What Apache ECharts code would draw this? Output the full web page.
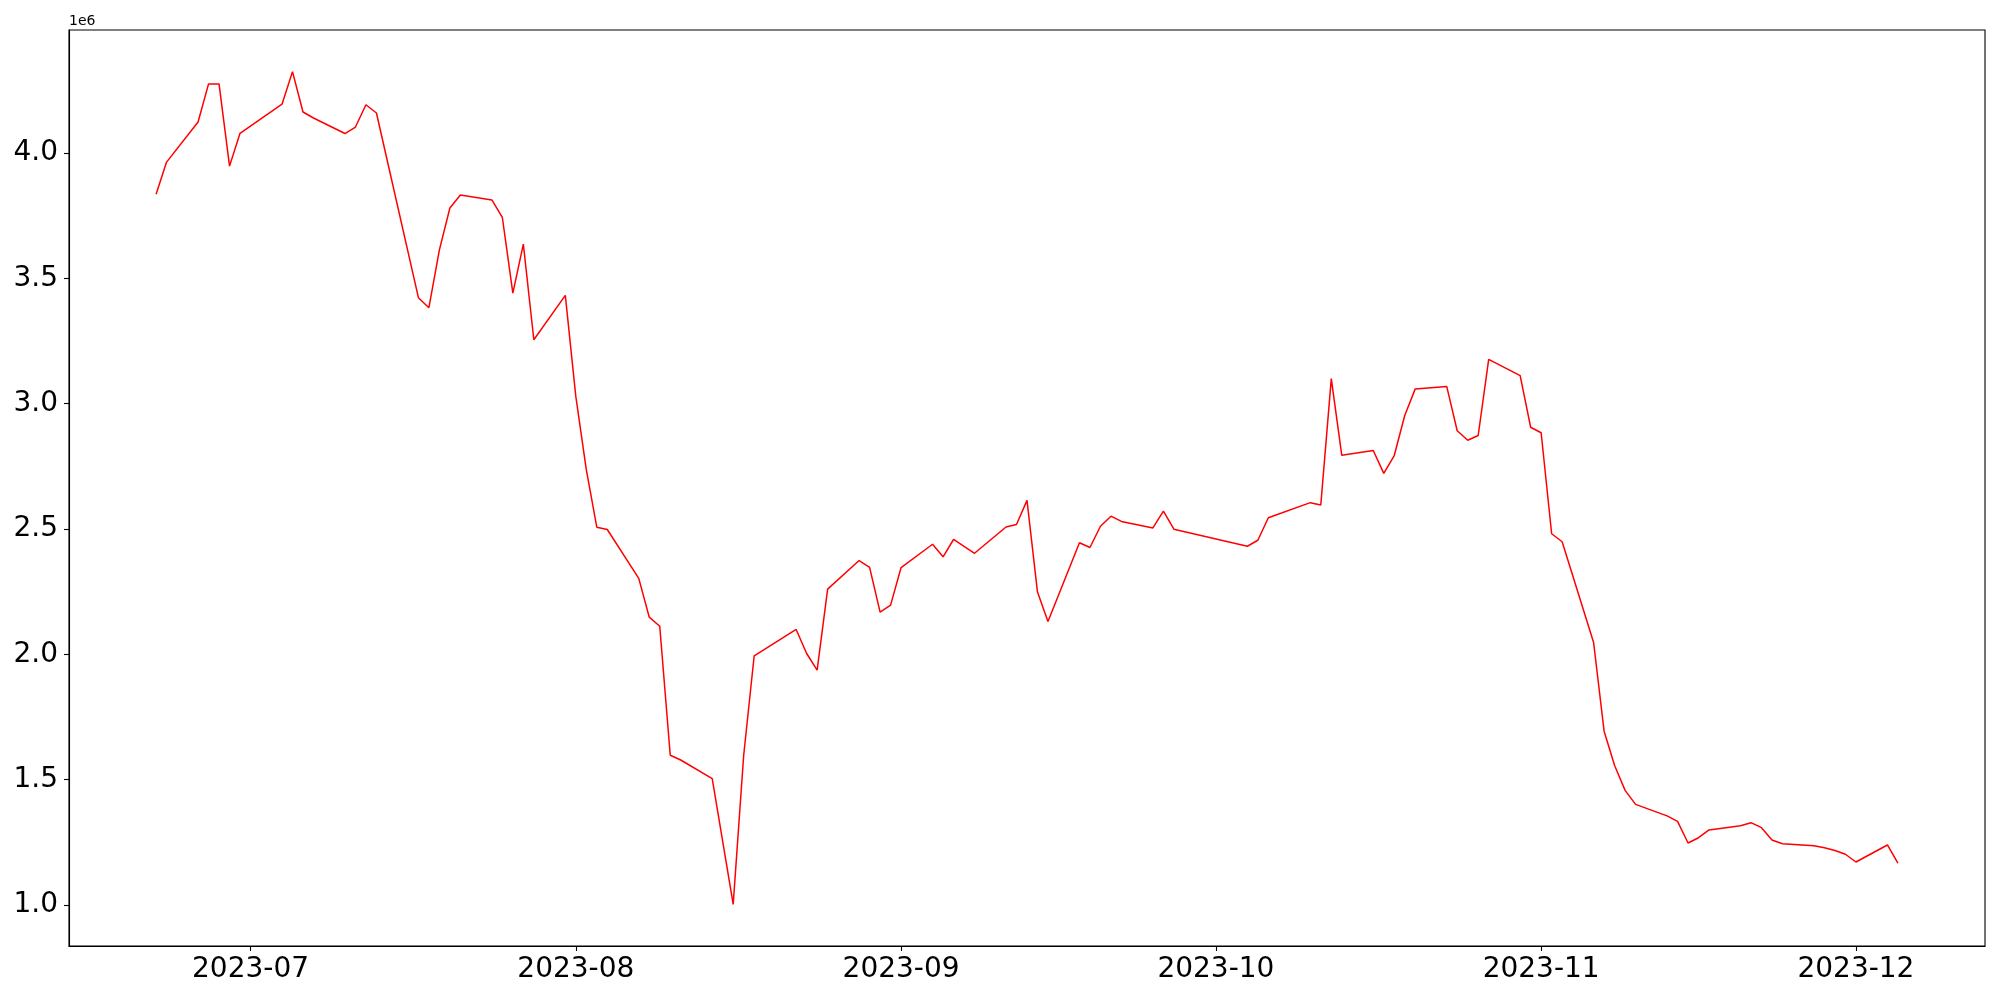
<!DOCTYPE html>
<html>
<head>
<meta charset="utf-8">
<script src="https://cdn.jsdelivr.net/npm/echarts@6/dist/echarts.min.js"></script>
<style>
  html, body { margin: 0; padding: 0; background: #fff; }
  #chart { width: 2000px; height: 1000px; }
</style>
</head>
<body>
<div id="chart"></div>
<script>
// trading days and values (in units of 1e6)
const dates = [
  "2023-06-22", "2023-06-23", "2023-06-26", "2023-06-27", "2023-06-28", "2023-06-29", "2023-06-30",
  "2023-07-04", "2023-07-05", "2023-07-06", "2023-07-07", "2023-07-10", "2023-07-11", "2023-07-12",
  "2023-07-13", "2023-07-17", "2023-07-18", "2023-07-19", "2023-07-20", "2023-07-21", "2023-07-24",
  "2023-07-25", "2023-07-26", "2023-07-27", "2023-07-28", "2023-07-31", "2023-08-01", "2023-08-02",
  "2023-08-03", "2023-08-04", "2023-08-07", "2023-08-08", "2023-08-09", "2023-08-10", "2023-08-11",
  "2023-08-14", "2023-08-16", "2023-08-17", "2023-08-18", "2023-08-22", "2023-08-23", "2023-08-24",
  "2023-08-25", "2023-08-28", "2023-08-29", "2023-08-30", "2023-08-31", "2023-09-01", "2023-09-04",
  "2023-09-05", "2023-09-06", "2023-09-08", "2023-09-11", "2023-09-12", "2023-09-13", "2023-09-14",
  "2023-09-15", "2023-09-18", "2023-09-19", "2023-09-20", "2023-09-21", "2023-09-22", "2023-09-25",
  "2023-09-26", "2023-09-27", "2023-10-04", "2023-10-05", "2023-10-06", "2023-10-10", "2023-10-11",
  "2023-10-12", "2023-10-13", "2023-10-16", "2023-10-17", "2023-10-18", "2023-10-19", "2023-10-20",
  "2023-10-23", "2023-10-24", "2023-10-25", "2023-10-26", "2023-10-27", "2023-10-30", "2023-10-31",
  "2023-11-01", "2023-11-02", "2023-11-03", "2023-11-06", "2023-11-07", "2023-11-08", "2023-11-09",
  "2023-11-10", "2023-11-13", "2023-11-14", "2023-11-15", "2023-11-16", "2023-11-17", "2023-11-20",
  "2023-11-21", "2023-11-22", "2023-11-23", "2023-11-24", "2023-11-27", "2023-11-28", "2023-11-29",
  "2023-11-30", "2023-12-01", "2023-12-04", "2023-12-05"
];
const values = [
  3.836, 3.964, 4.124, 4.276, 4.276, 3.948, 4.079,
  4.195, 4.325, 4.164, 4.140, 4.078, 4.104, 4.193,
  4.160, 3.423, 3.383, 3.614, 3.781, 3.833, 3.813,
  3.743, 3.441, 3.637, 3.255, 3.432, 3.029, 2.737,
  2.507, 2.498, 2.303, 2.148, 2.112, 1.597, 1.578,
  1.504, 1.002, 1.597, 1.994, 2.099, 2.003, 1.937,
  2.260, 2.374, 2.347, 2.168, 2.196, 2.346, 2.439,
  2.389, 2.458, 2.403, 2.508, 2.518, 2.614, 2.248,
  2.131, 2.445, 2.426, 2.511, 2.551, 2.530, 2.504,
  2.571, 2.499, 2.431, 2.455, 2.545, 2.605, 2.596,
  3.100, 2.794, 2.813, 2.722, 2.793, 2.953, 3.059,
  3.069, 2.892, 2.854, 2.873, 3.177, 3.112, 2.906,
  2.884, 2.481, 2.449, 2.047, 1.693, 1.556, 1.457,
  1.401, 1.355, 1.333, 1.247, 1.268, 1.299, 1.316,
  1.328, 1.308, 1.259, 1.244, 1.236, 1.228, 1.217,
  1.202, 1.171, 1.239, 1.167
];
const xTicks = ["2023-07-01", "2023-08-01", "2023-09-01", "2023-10-01", "2023-11-01", "2023-12-01"];
const yTicks = [1.0, 1.5, 2.0, 2.5, 3.0, 3.5, 4.0];

const toTime = (s) => new Date(s + "T00:00:00").getTime();
const times = dates.map(toTime);

// matplotlib-style 5% margins around the data
const pad = (lo, hi) => [lo - (hi - lo) * 0.05, hi + (hi - lo) * 0.05];
const [xMin, xMax] = pad(times[0], times[times.length - 1]);
const [yMin, yMax] = pad(Math.min(...values), Math.max(...values));

const font = "DejaVu Sans";
const chart = echarts.init(document.getElementById("chart"));

chart.setOption({
  animation: false,
  backgroundColor: "#fff",
  grid: {
    left: 69, right: 15, top: 30, bottom: 54,
    show: true, borderColor: "#000", borderWidth: 1.1, backgroundColor: "transparent"
  },
  graphic: [{
    type: "text", left: 69, top: 14,
    style: { text: "1e6", font: "14px " + font, fill: "#000" }
  }],
  xAxis: {
    type: "value",
    min: xMin, max: xMax,
    splitLine: { show: false },
    axisLine: { show: true, lineStyle: { color: "#000", width: 1.1 } },
    axisTick: { show: true, length: 5, lineStyle: { color: "#000", width: 1.1 }, customValues: xTicks.map(toTime) },
    axisLabel: {
      customValues: xTicks.map(toTime),
      margin: 10,
      color: "#000", fontFamily: font, fontSize: 28,
      formatter: (v) => {
        const d = new Date(v);
        return d.getFullYear() + "-" + String(d.getMonth() + 1).padStart(2, "0");
      }
    }
  },
  yAxis: {
    type: "value",
    min: yMin, max: yMax,
    splitLine: { show: false },
    axisLine: { show: true, lineStyle: { color: "#000", width: 1.1 } },
    axisTick: { show: true, length: 5, lineStyle: { color: "#000", width: 1.1 }, customValues: yTicks },
    axisLabel: {
      customValues: yTicks,
      margin: 11,
      color: "#000", fontFamily: font, fontSize: 28,
      formatter: (v) => v.toFixed(1)
    }
  },
  series: [{
    type: "line",
    data: times.map((t, i) => [t, values[i]]),
    showSymbol: false,
    lineStyle: { color: "#ff0000", width: 1.5 },
    itemStyle: { color: "#ff0000" }
  }]
});
</script>
</body>
</html>
